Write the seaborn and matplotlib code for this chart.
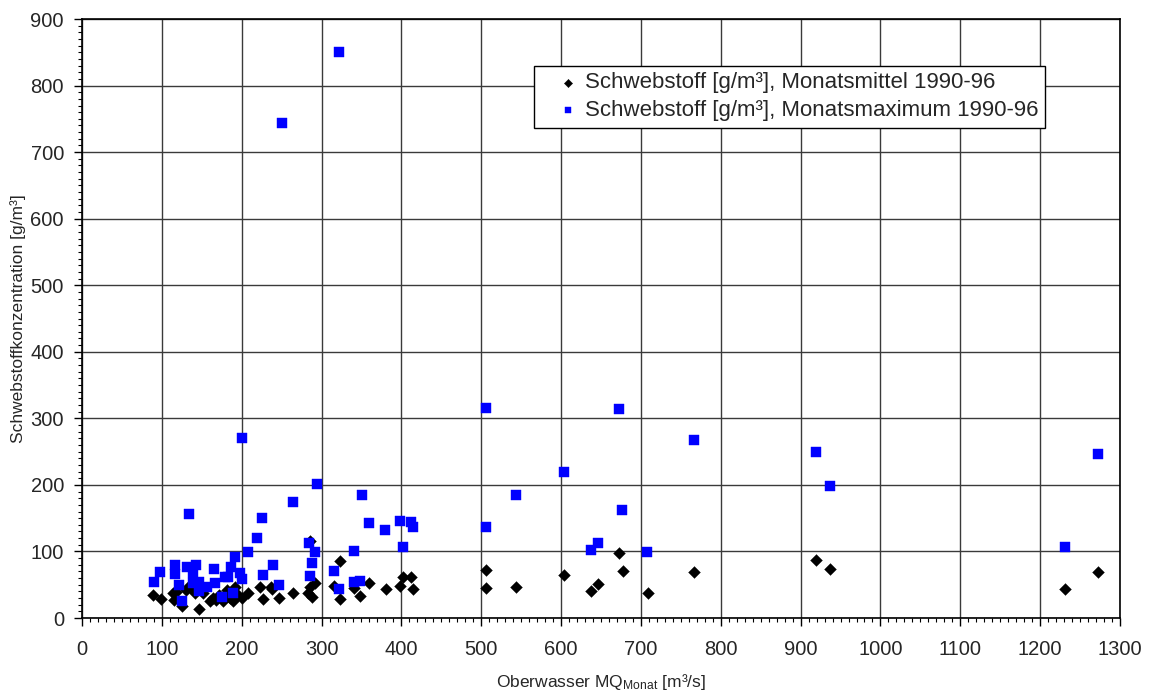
import matplotlib
matplotlib.use("Agg")
import matplotlib.pyplot as plt
from matplotlib.ticker import MultipleLocator
import pandas as pd
import seaborn as sns

# Monatsmittel der Schwebstoffkonzentration gegen den Monatsabfluss
q_mittel = [89, 99, 114, 115, 118, 125, 130, 133, 139, 141, 147, 152, 160, 164,
            168, 172, 177, 179, 181, 185, 189, 191, 195, 200, 208, 223, 227, 237,
            238, 247, 264, 283, 285, 285, 288, 292, 316, 323, 323, 341, 348, 360,
            381, 398, 402, 412, 415, 506, 506, 543, 604, 638, 646, 673, 677, 709,
            766, 919, 937, 1231, 1272]
c_mittel = [35, 28, 37, 27, 39, 18, 42, 47, 42, 38, 14, 37, 25, 30,
            27, 35, 25, 32, 42, 30, 25, 47, 35, 30, 37, 47, 28, 47,
            43, 30, 37, 37, 115, 47, 32, 52, 48, 86, 29, 45, 33, 52,
            43, 48, 62, 61, 43, 72, 45, 47, 64, 40, 51, 97, 71, 38,
            69, 87, 74, 43, 69]

# Monatsmaxima der Schwebstoffkonzentration gegen den Monatsabfluss
q_max = [90, 98, 116, 116, 122, 125, 131, 134, 139, 139, 143, 147, 147, 156,
         165, 166, 175, 179, 183, 186, 189, 191, 198, 200, 208, 219, 201, 225,
         227, 239, 247, 250, 264, 284, 285, 288, 292, 294, 316, 322, 322, 341,
         341, 348, 351, 360, 380, 398, 402, 412, 415, 506, 506, 543, 604, 637,
         646, 673, 676, 708, 766, 919, 937, 1231, 1272]
c_max = [54, 69, 79, 66, 50, 26, 77, 156, 67, 52, 80, 54, 40, 47,
         73, 52, 32, 62, 62, 77, 37, 92, 67, 58, 99, 120, 271, 151,
         65, 79, 49, 744, 175, 112, 63, 83, 99, 201, 71, 43, 851, 100,
         54, 56, 185, 143, 132, 145, 106, 144, 137, 316, 137, 185, 220, 102,
         112, 314, 163, 99, 267, 249, 199, 106, 247]

label_mittel = "Schwebstoff [g/m³], Monatsmittel 1990-96"
label_max = "Schwebstoff [g/m³], Monatsmaximum 1990-96"

df_mittel = pd.DataFrame({"q": q_mittel, "c": c_mittel})
df_max = pd.DataFrame({"q": q_max, "c": c_max})

sns.set_style("ticks")
plt.rcParams["font.family"] = ["Liberation Sans", "DejaVu Sans"]
plt.rcParams["mathtext.fontset"] = "custom"
plt.rcParams["mathtext.rm"] = "Liberation Sans"
plt.rcParams["mathtext.it"] = "Liberation Sans"

fig = plt.figure(figsize=(11.5, 6.9), dpi=100)
ax = fig.add_axes([82 / 1150, 1 - 618 / 690, 1038 / 1150, 599 / 690])

sns.scatterplot(data=df_mittel, x="q", y="c", ax=ax, marker="D", s=36,
                color="black", edgecolor="black", linewidth=0.3,
                label=label_mittel, zorder=3)
sns.scatterplot(data=df_max, x="q", y="c", ax=ax, marker="s", s=44,
                color="#0000ff", edgecolor="#0000ff", linewidth=0.3,
                label=label_max, zorder=4)

ax.set_xlim(0, 1300)
ax.set_ylim(0, 900)
ax.xaxis.set_major_locator(MultipleLocator(100))
ax.xaxis.set_minor_locator(MultipleLocator(10))
ax.yaxis.set_major_locator(MultipleLocator(100))
ax.yaxis.set_minor_locator(MultipleLocator(10))
ax.grid(True, which="major", color="#3a3a3a", linewidth=1.0, zorder=0)
ax.set_axisbelow(True)

ax.tick_params(axis="both", which="major", direction="out", length=6,
               width=1, color="black", labelsize=14.5, pad=7)
ax.tick_params(axis="x", which="major", pad=10)
ax.tick_params(axis="both", which="minor", direction="out", length=3,
               width=0.8, color="black")
for sp in ax.spines.values():
    sp.set_color("black")
    sp.set_linewidth(1.2)

ax.set_xlabel(r"Oberwasser MQ$_{\mathrm{Monat}}$ [m³/s]", fontsize=12.5, labelpad=9)
ax.set_ylabel("Schwebstoffkonzentration [g/m³]", fontsize=12.5, labelpad=3)

leg = ax.legend(loc="upper left", bbox_to_anchor=(0.435, 0.922), fontsize=16,
                frameon=True, fancybox=False, framealpha=1, edgecolor="black",
                borderpad=0.3, handletextpad=-0.5, handlelength=2.5,
                labelspacing=0.3, markerscale=0.7, borderaxespad=0)
leg.get_frame().set_linewidth(1.0)

fig.savefig("out.png", dpi=100)
